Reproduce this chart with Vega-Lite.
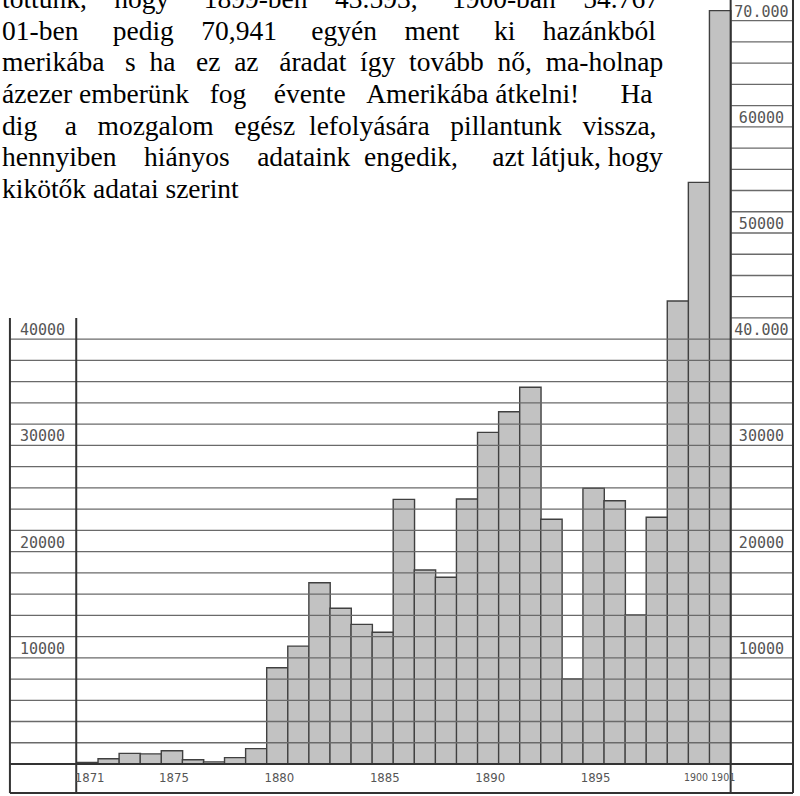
{
  "$schema": "https://vega.github.io/schema/vega-lite/v6.json",
  "width": 800,
  "height": 796,
  "autosize": {"type": "none"},
  "padding": 0,
  "background": "white",
  "config": {"view": {"stroke": null}},
  "datasets": {
    "bars": [
      {"year": 1871, "value": 150},
      {"year": 1872, "value": 500},
      {"year": 1873, "value": 1000},
      {"year": 1874, "value": 950},
      {"year": 1875, "value": 1250},
      {"year": 1876, "value": 400},
      {"year": 1877, "value": 200},
      {"year": 1878, "value": 600},
      {"year": 1879, "value": 1450},
      {"year": 1880, "value": 9070},
      {"year": 1881, "value": 11100},
      {"year": 1882, "value": 17070},
      {"year": 1883, "value": 14660},
      {"year": 1884, "value": 13150},
      {"year": 1885, "value": 12400},
      {"year": 1886, "value": 24920},
      {"year": 1887, "value": 18270},
      {"year": 1888, "value": 17580},
      {"year": 1889, "value": 24950},
      {"year": 1890, "value": 31230},
      {"year": 1891, "value": 33170},
      {"year": 1892, "value": 35470},
      {"year": 1893, "value": 23040},
      {"year": 1894, "value": 8000},
      {"year": 1895, "value": 25960},
      {"year": 1896, "value": 24790},
      {"year": 1897, "value": 14030},
      {"year": 1898, "value": 23230},
      {"year": 1899, "value": 43593},
      {"year": 1900, "value": 54767},
      {"year": 1901, "value": 70941}
    ],
    "gridFull": [
      {"v": 2000}, {"v": 4000}, {"v": 6000}, {"v": 8000}, {"v": 10000},
      {"v": 12000}, {"v": 14000}, {"v": 16000}, {"v": 18000}, {"v": 20000},
      {"v": 22000}, {"v": 24000}, {"v": 26000}, {"v": 28000}, {"v": 30000},
      {"v": 32000}, {"v": 34000}, {"v": 36000}, {"v": 38000}, {"v": 40000}
    ],
    "gridRight": [
      {"v": 42000}, {"v": 44000}, {"v": 46000}, {"v": 48000}, {"v": 50000},
      {"v": 52000}, {"v": 54000}, {"v": 56000}, {"v": 58000}, {"v": 60000},
      {"v": 62000}, {"v": 64000}, {"v": 66000}, {"v": 68000}, {"v": 70000}
    ],
    "leftLabels": [
      {"v": 10000, "t": "10000"},
      {"v": 20000, "t": "20000"},
      {"v": 30000, "t": "30000"},
      {"v": 40000, "t": "40000"}
    ],
    "rightLabels": [
      {"v": 10000, "t": "10000"},
      {"v": 20000, "t": "20000"},
      {"v": 30000, "t": "30000"},
      {"v": 40000, "t": "40.000"},
      {"v": 50000, "t": "50000"},
      {"v": 60000, "t": "60000"},
      {"v": 70000, "t": "70.000"}
    ],
    "yearLabels": [
      {"year": 1871, "t": "1871"},
      {"year": 1875, "t": "1875"},
      {"year": 1880, "t": "1880"},
      {"year": 1885, "t": "1885"},
      {"year": 1890, "t": "1890"},
      {"year": 1895, "t": "1895"}
    ],
    "yearLabel1900": [
      {"year": 1900, "t": "1900"}
    ],
    "yearLabel1901": [
      {"year": 1901, "t": "1901"}
    ],
    "para": [
      {"n": 0, "t": "tottunk,\u00a0\u00a0\u00a0\u00a0hogy\u00a0\u00a0\u00a0\u00a0\u00a01899-ben\u00a0\u00a0\u00a0\u00a043.593,\u00a0\u00a0\u00a0\u00a0\u00a01900-ban\u00a0\u00a0\u00a0\u00a054.767"},
      {"n": 1, "t": "01-ben\u00a0\u00a0\u00a0\u00a0\u00a0pedig\u00a0\u00a0\u00a0\u00a070,941\u00a0\u00a0\u00a0\u00a0\u00a0egyén\u00a0\u00a0\u00a0\u00a0ment\u00a0\u00a0\u00a0\u00a0\u00a0ki\u00a0\u00a0\u00a0\u00a0hazánkból"},
      {"n": 2, "t": "merikába\u00a0\u00a0\u00a0s\u00a0\u00a0ha\u00a0\u00a0\u00a0ez\u00a0\u00a0az\u00a0\u00a0\u00a0áradat\u00a0\u00a0így\u00a0\u00a0tovább\u00a0\u00a0nő,\u00a0\u00a0ma-holnap"},
      {"n": 3, "t": "ázezer\u00a0emberünk\u00a0\u00a0\u00a0fog\u00a0\u00a0\u00a0\u00a0évente\u00a0\u00a0\u00a0Amerikába\u00a0átkelni!\u00a0\u00a0\u00a0\u00a0\u00a0\u00a0Ha"},
      {"n": 4, "t": "dig\u00a0\u00a0\u00a0\u00a0a\u00a0\u00a0\u00a0mozgalom\u00a0\u00a0\u00a0egész\u00a0\u00a0lefolyására\u00a0\u00a0\u00a0pillantunk\u00a0\u00a0\u00a0vissza,"},
      {"n": 5, "t": "hennyiben\u00a0\u00a0\u00a0\u00a0hiányos\u00a0\u00a0\u00a0\u00a0adataink\u00a0\u00a0engedik,\u00a0\u00a0\u00a0\u00a0\u00a0azt\u00a0látjuk,\u00a0hogy"},
      {"n": 6, "t": "kikötők adatai szerint"}
    ]
  },
  "layer": [
    {
      "layer": [
        {
          "data": {"name": "bars"},
          "mark": {"type": "bar", "size": 21.35, "fill": "#c2c2c2", "stroke": "#404040", "strokeWidth": 1.4},
          "encoding": {
            "x": {"field": "year", "type": "quantitative", "scale": {"domain": [1867.081, 1904.552], "nice": false, "zero": false}, "axis": null},
            "y": {"field": "value", "type": "quantitative", "stack": null, "scale": {"domain": [-3013, 71940], "nice": false, "zero": false}, "axis": null},
            "y2": {"datum": 0}
          }
        },
        {
          "data": {"name": "gridFull"},
          "mark": {"type": "rule", "color": "#6a6a6a", "strokeWidth": 1.3},
          "encoding": {
            "y": {"field": "v", "type": "quantitative", "axis": null},
            "x": {"datum": 1867.315, "type": "quantitative", "axis": null},
            "x2": {"datum": 1904.457}
          }
        },
        {
          "data": {"name": "gridRight"},
          "mark": {"type": "rule", "color": "#6a6a6a", "strokeWidth": 1.3},
          "encoding": {
            "y": {"field": "v", "type": "quantitative", "axis": null},
            "x": {"datum": 1901.5, "type": "quantitative", "axis": null},
            "x2": {"datum": 1904.457}
          }
        },
        {
          "data": {"values": [{}]},
          "mark": {"type": "rule", "color": "#333333", "strokeWidth": 2},
          "encoding": {
            "x": {"datum": 1867.315, "type": "quantitative", "axis": null},
            "y": {"datum": 42000, "type": "quantitative", "axis": null},
            "y2": {"datum": -2730}
          }
        },
        {
          "data": {"values": [{}]},
          "mark": {"type": "rule", "color": "#333333", "strokeWidth": 2},
          "encoding": {
            "x": {"datum": 1870.46, "type": "quantitative", "axis": null},
            "y": {"datum": 42000, "type": "quantitative", "axis": null},
            "y2": {"datum": -2730}
          }
        },
        {
          "data": {"values": [{}]},
          "mark": {"type": "rule", "color": "#333333", "strokeWidth": 2},
          "encoding": {
            "x": {"datum": 1901.5, "type": "quantitative", "axis": null},
            "y": {"datum": 72500, "type": "quantitative", "axis": null},
            "y2": {"datum": -2730}
          }
        },
        {
          "data": {"values": [{}]},
          "mark": {"type": "rule", "color": "#333333", "strokeWidth": 2},
          "encoding": {
            "x": {"datum": 1904.457, "type": "quantitative", "axis": null},
            "y": {"datum": 72500, "type": "quantitative", "axis": null},
            "y2": {"datum": -2730}
          }
        },
        {
          "data": {"values": [{}]},
          "mark": {"type": "rule", "color": "#333333", "strokeWidth": 2},
          "encoding": {
            "y": {"datum": 0, "type": "quantitative", "axis": null},
            "x": {"datum": 1867.315, "type": "quantitative", "axis": null},
            "x2": {"datum": 1904.457}
          }
        },
        {
          "data": {"values": [{}]},
          "mark": {"type": "rule", "color": "#333333", "strokeWidth": 2},
          "encoding": {
            "y": {"datum": -2730, "type": "quantitative", "axis": null},
            "x": {"datum": 1867.315, "type": "quantitative", "axis": null},
            "x2": {"datum": 1904.457}
          }
        },
        {
          "data": {"name": "leftLabels"},
          "mark": {"type": "text", "align": "center", "baseline": "alphabetic", "dy": -4, "font": "DejaVu Sans Mono", "fontSize": 15, "color": "#555555"},
          "encoding": {
            "x": {"datum": 1868.86, "type": "quantitative", "axis": null},
            "y": {"field": "v", "type": "quantitative", "axis": null},
            "text": {"field": "t"}
          }
        },
        {
          "data": {"name": "rightLabels"},
          "mark": {"type": "text", "align": "center", "baseline": "alphabetic", "dy": -4, "font": "DejaVu Sans Mono", "fontSize": 15, "color": "#555555"},
          "encoding": {
            "x": {"datum": 1902.96, "type": "quantitative", "axis": null},
            "y": {"field": "v", "type": "quantitative", "axis": null},
            "text": {"field": "t"}
          }
        },
        {
          "data": {"name": "yearLabels"},
          "mark": {"type": "text", "align": "center", "baseline": "middle", "dx": 2, "font": "Liberation Sans Narrow, DejaVu Sans Condensed, Roboto, sans-serif", "fontSize": 13, "color": "#555555"},
          "encoding": {
            "x": {"field": "year", "type": "quantitative", "axis": null},
            "y": {"datum": -1365, "type": "quantitative", "axis": null},
            "text": {"field": "t"}
          }
        },
        {
          "data": {"name": "yearLabel1900"},
          "mark": {"type": "text", "align": "right", "baseline": "middle", "dx": 9, "font": "Liberation Sans Narrow, DejaVu Sans Condensed, Roboto, sans-serif", "fontSize": 10.5, "color": "#555555"},
          "encoding": {
            "x": {"field": "year", "type": "quantitative", "axis": null},
            "y": {"datum": -1365, "type": "quantitative", "axis": null},
            "text": {"field": "t"}
          }
        },
        {
          "data": {"name": "yearLabel1901"},
          "mark": {"type": "text", "align": "left", "baseline": "middle", "dx": -9, "font": "Liberation Sans Narrow, DejaVu Sans Condensed, Roboto, sans-serif", "fontSize": 10.5, "color": "#555555"},
          "encoding": {
            "x": {"field": "year", "type": "quantitative", "axis": null},
            "y": {"datum": -1365, "type": "quantitative", "axis": null},
            "text": {"field": "t"}
          }
        }
      ]
    },
    {
      "data": {"name": "para"},
      "mark": {"type": "text", "align": "left", "baseline": "alphabetic", "font": "Liberation Serif", "fontSize": 27.5, "color": "#000000"},
      "encoding": {
        "x": {"datum": 1866.94, "type": "quantitative", "axis": null},
        "y": {"field": "n", "type": "quantitative", "scale": {"domain": [-0.252, 24.858], "reverse": true, "nice": false, "zero": false}, "axis": null},
        "text": {"field": "t"}
      }
    }
  ],
  "resolve": {"scale": {"y": "independent"}}
}
